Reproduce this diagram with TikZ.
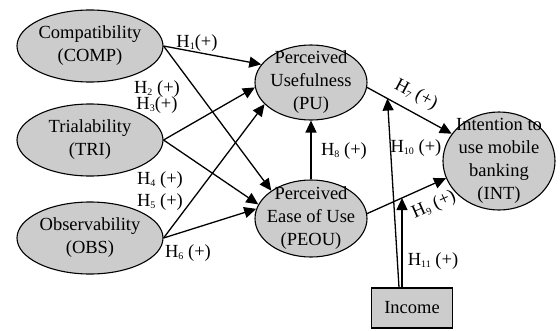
\documentclass[tikz,border=0pt]{standalone}
\usepackage{fontspec}
\setmainfont{Liberation Serif}
\usepackage{tikz}
\usepackage{xcolor}
\usetikzlibrary{shapes.geometric, arrows.meta, positioning}

\definecolor{constructgray}{gray}{0.8}
\newcommand{\hsub}[1]{\raisebox{-2.5pt}{\fontsize{10}{10}\selectfont #1}}

\tikzset{
  construct/.style={ellipse, draw, line width=1.1pt, fill=constructgray, inner xsep=-5pt, inner ysep=-12pt, align=center},
  moderator/.style={rectangle, draw, line width=1.1pt, fill=constructgray, minimum width=81pt, minimum height=40pt},
  link/.style={-{Triangle[length=12pt,width=11pt]}, line width=1.3pt},
  hyp/.style={inner sep=0pt}
}

\begin{document}
\begin{tikzpicture}[x=1pt, y=-1pt, font=\fontsize{18.5}{23}\selectfont]
\useasboundingbox (0,0) rectangle (560,330);

% constructs
\node[construct, minimum width=146pt, minimum height=72pt] (comp) at (90,46) {Compatibility\\(COMP)};
\node[construct, minimum width=146pt, minimum height=72pt] (tri) at (90,140) {Trialability\\(TRI)};
\node[construct, minimum width=146pt, minimum height=72pt] (obs) at (90,238) {Observability\\(OBS)};
\node[construct, minimum width=112pt, minimum height=75pt] (pu) at (311,82.5) {Perceived\\Usefulness\\(PU)};
\node[construct, minimum width=112pt, minimum height=77pt] (peou) at (311,218.5) {Perceived\\Ease of Use\\(PEOU)};
\node[construct, minimum width=112pt, minimum height=98pt] (int) at (499,161) {Intention to\\use mobile\\banking\\(INT)};
\node[moderator] (income) at (412,308) {Income};

% hypothesised paths
\draw[link] (comp.east) -- (pu.160);
\draw[link] (comp.east) -- (peou.145);
\draw[link] (tri.east) -- (pu.185);
\draw[link] (tri.east) -- (peou.165);
\draw[link] (obs.east) -- (pu.205);
\draw[link] (obs.east) -- (peou.170);
\draw[link] (peou) -- (pu);
\draw[link] (pu.355) -- coordinate[pos=0.24] (onh7) (int.150);
\draw[link] (peou.5) -- coordinate[pos=0.44] (onh9) (int.198);

% moderation by income
\draw[link] ([xshift=-13pt]income.north) -- (onh7);
\draw[link] ([xshift=-10pt]income.north) -- ([xshift=-10pt]income.north |- onh9);

\node[hyp] (h1) at (197,43) {H\hsub{1}(+)};
\node[hyp] (h2) at (157,89) {H\hsub{2} (+)};
\node[hyp] (h3) at (157,105) {H\hsub{3}(+)};
\node[hyp] (h4) at (160,180) {H\hsub{4} (+)};
\node[hyp] (h5) at (160,202) {H\hsub{5} (+)};
\node[hyp] (h6) at (188,253) {H\hsub{6} (+)};
\node[hyp, rotate=-28] (h7) at (416,95) {H\hsub{7} (+)};
\node[hyp] (h8) at (344,151) {H\hsub{8} (+)};
\node[hyp, rotate=24] (h9) at (434,205) {H\hsub{9} (+)};
\node[hyp] (h10) at (416,148) {H\hsub{10} (+)};
\node[hyp] (h11) at (433,261) {H\hsub{11} (+)};
\end{tikzpicture}
\end{document}
